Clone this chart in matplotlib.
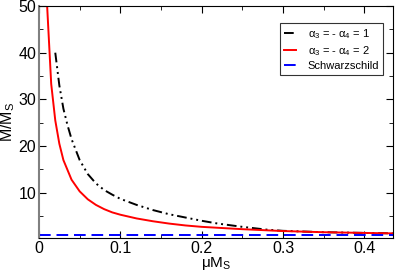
import matplotlib
matplotlib.use("Agg")
import matplotlib.pyplot as plt
from matplotlib.ticker import MultipleLocator

plt.rcParams['font.family'] = ['Liberation Sans', 'DejaVu Sans']
plt.rcParams['mathtext.fontset'] = 'custom'
plt.rcParams['mathtext.rm'] = 'Liberation Sans'
plt.rcParams['mathtext.it'] = 'Liberation Sans'

# alpha3 = -alpha4 = 1
mu_a1 = [0.020, 0.025, 0.030, 0.035, 0.040, 0.050, 0.060, 0.070, 0.080, 0.090,
         0.100, 0.120, 0.140, 0.160, 0.180, 0.200, 0.220, 0.250, 0.280, 0.300,
         0.350, 0.400, 0.435]
m_a1 = [40.0, 33.0, 28.0, 24.5, 21.5, 17.0, 14.0, 12.0, 10.6, 9.6,
        8.7, 7.4, 6.3, 5.4, 4.7, 4.0, 3.4, 2.7, 2.1, 1.85,
        1.55, 1.4, 1.3]

# alpha3 = -alpha4 = 2
mu_a2 = [0.010, 0.015, 0.020, 0.025, 0.030, 0.040, 0.050, 0.060, 0.070, 0.080,
         0.090, 0.100, 0.120, 0.140, 0.160, 0.180, 0.200, 0.250, 0.300, 0.350,
         0.400, 0.435]
m_a2 = [50.0, 33.3, 25.5, 20.5, 17.0, 12.8, 10.3, 8.6, 7.4, 6.5,
        5.8, 5.3, 4.5, 3.9, 3.4, 3.0, 2.7, 2.2, 1.8, 1.55,
        1.4, 1.3]

m_schw = 1.0

fig = plt.figure(figsize=(3.98, 2.73), dpi=100)
ax = fig.add_axes([0.098, 0.128, 0.889, 0.850])

ax.plot(mu_a1, m_a1, color='black', lw=1.4, dashes=[5, 2, 1, 2, 1, 2],
        label=r'$\alpha_3$ = - $\alpha_4$ = 1')
ax.plot(mu_a2, m_a2, color='red', lw=1.4, label=r'$\alpha_3$ = - $\alpha_4$ = 2')
ax.axhline(m_schw, color='blue', lw=1.4, dashes=[6, 3], label='Schwarzschild')

ax.set_xlim(0, 0.435)
ax.set_ylim(0.3, 50)
ax.set_xticks([0, 0.1, 0.2, 0.3, 0.4])
ax.set_xticklabels(['0', '0.1', '0.2', '0.3', '0.4'])
ax.set_yticks([10, 20, 30, 40, 50])
ax.xaxis.set_minor_locator(MultipleLocator(0.05))
ax.yaxis.set_minor_locator(MultipleLocator(5))
ax.tick_params(which='both', direction='in', top=True, right=True, labelsize=11.5)
ax.tick_params(which='major', length=5, pad=2)
ax.tick_params(which='minor', length=3)
ax.spines['left'].set_color('gray')
ax.spines['left'].set_linewidth(1.5)

ax.set_xlabel(r'$\mu$M$_{\rm S}$', fontsize=11)
ax.set_ylabel(r'M/M$_{\rm S}$', fontsize=11.5)
ax.xaxis.set_label_coords(0.5, -0.075)
ax.yaxis.set_label_coords(-0.061, 0.5)

leg = ax.legend(loc='upper right', bbox_to_anchor=(0.972, 0.927), fontsize=8,
                frameon=True, fancybox=False, edgecolor='black',
                handlelength=1.1, borderpad=0.35, labelspacing=0.3,
                handletextpad=1.0, borderaxespad=0)
leg.get_frame().set_linewidth(0.8)

fig.savefig('out.png', dpi=100)
